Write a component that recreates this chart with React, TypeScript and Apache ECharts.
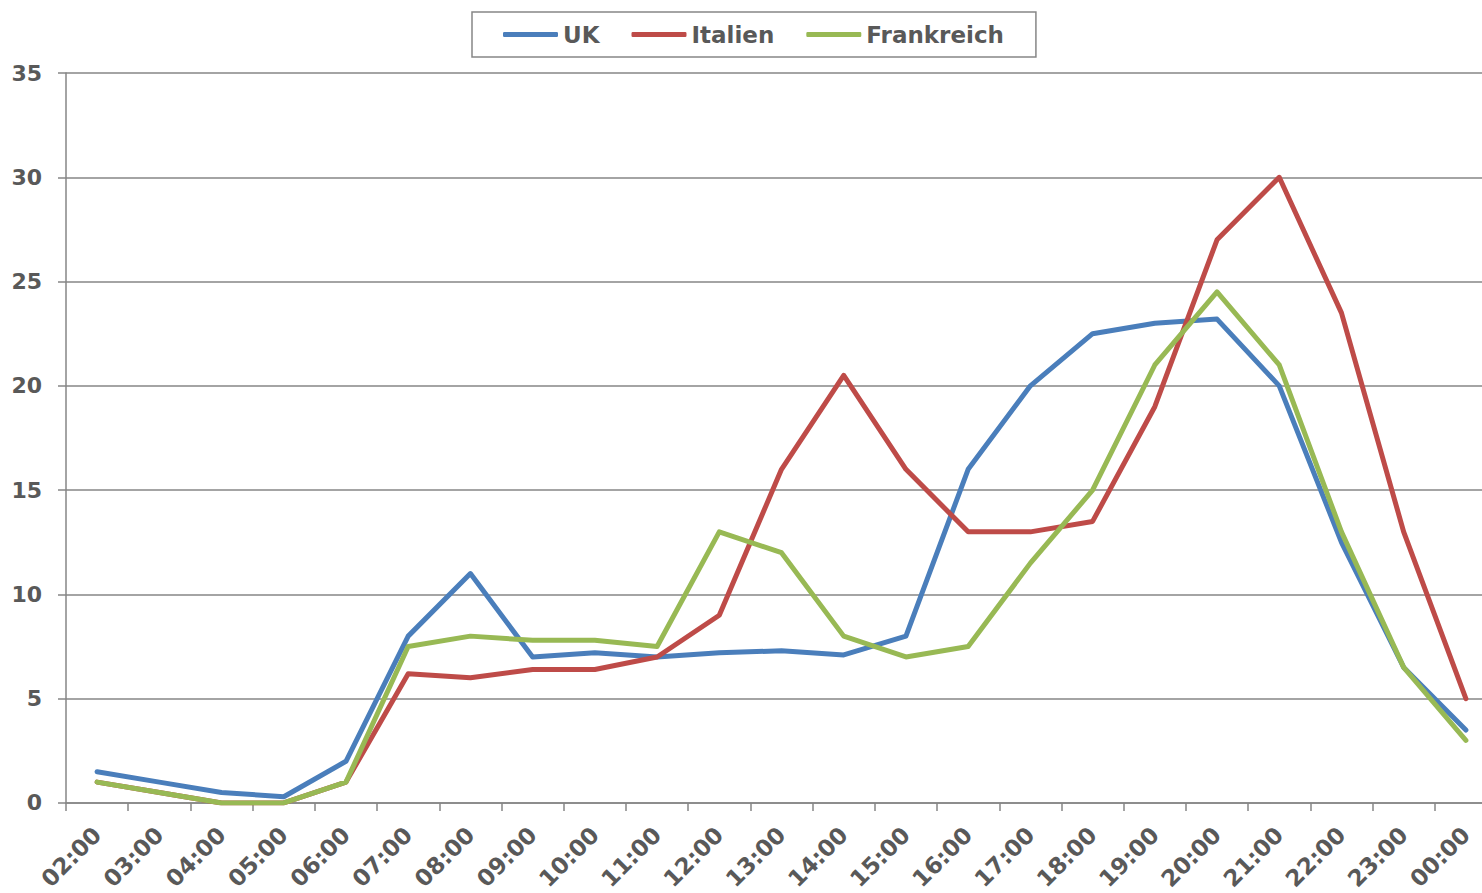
import React, { useEffect, useRef } from "react";
import * as echarts from "echarts";

const hours = [
  "02:00", "03:00", "04:00", "05:00", "06:00", "07:00", "08:00", "09:00",
  "10:00", "11:00", "12:00", "13:00", "14:00", "15:00", "16:00", "17:00",
  "18:00", "19:00", "20:00", "21:00", "22:00", "23:00", "00:00",
];
const uk = [1.5, 1.0, 0.5, 0.3, 2, 8, 11, 7, 7.2, 7, 7.2, 7.3, 7.1, 8, 16, 20, 22.5, 23, 23.2, 20, 12.5, 6.5, 3.5];
const italien = [1, 0.5, 0, 0, 1, 6.2, 6, 6.4, 6.4, 7, 9, 16, 20.5, 16, 13, 13, 13.5, 19, 27, 30, 23.5, 13, 5];
const frankreich = [1, 0.5, 0, 0, 1, 7.5, 8, 7.8, 7.8, 7.5, 13, 12, 8, 7, 7.5, 11.5, 15, 21, 24.5, 21, 13, 6.5, 3];

const seriesNames = ["UK", "Italien", "Frankreich"];
const seriesColors = ["#4A7EBB", "#BE4B48", "#98B954"];

const gray = "#868686";
const textColor = "#595959";
const font = "'DejaVu Sans', Verdana, sans-serif";

export default function App() {
  const ref = useRef<HTMLDivElement>(null);
  useEffect(() => {
    const chart = echarts.init(ref.current!, null, { renderer: "svg" });
    const data = [uk, italien, frankreich];
    chart.setOption({
      animation: false,
      backgroundColor: "#ffffff",
      grid: { left: 66, top: 73, bottom: 88, right: 3, containLabel: false },
      legend: {
        data: seriesNames.map((n) => ({ name: n, icon: "roundRect" })),
        left: 472,
        top: 12,
        padding: [11, 32, 11, 31],
        itemGap: 32,
        itemWidth: 55,
        itemHeight: 5,
        borderColor: gray,
        borderWidth: 1.5,
        borderRadius: 0,
        textStyle: { color: textColor, fontFamily: font, fontWeight: "bold", fontSize: 23, padding: [0, 0, 0, 0] },
      },
      xAxis: {
        type: "category",
        data: hours,
        boundaryGap: true,
        axisLine: { show: true, lineStyle: { color: gray, width: 1.5 } },
        axisTick: { show: true, length: 8, lineStyle: { color: gray, width: 1.5 } },
        axisLabel: {
          interval: 0,
          rotate: 45,
          margin: 28,
          color: textColor,
          fontFamily: font,
          fontWeight: "bold",
          fontSize: 23,
        },
        splitLine: { show: false },
      },
      yAxis: {
        type: "value",
        min: 0,
        max: 35,
        interval: 5,
        axisLine: { show: true, lineStyle: { color: gray, width: 1.5 } },
        axisTick: { show: true, length: 8, lineStyle: { color: gray, width: 1.5 } },
        axisLabel: {
          margin: 24,
          color: textColor,
          fontFamily: font,
          fontWeight: "bold",
          fontSize: 22,
        },
        splitLine: { show: true, lineStyle: { color: gray, width: 1.5 } },
      },
      series: seriesNames.map((name, i) => ({
        name,
        type: "line",
        data: data[i],
        symbol: "none",
        smooth: false,
        color: seriesColors[i],
        itemStyle: { color: seriesColors[i] },
        lineStyle: { color: seriesColors[i], width: 5, cap: "round", join: "round" },
      })),
    });
    return () => chart.dispose();
  }, []);
  return (
    <div
      ref={ref}
      style={{ position: "fixed", left: 0, top: 0, width: 1500, height: 893, background: "#fff" }}
    />
  );
}
